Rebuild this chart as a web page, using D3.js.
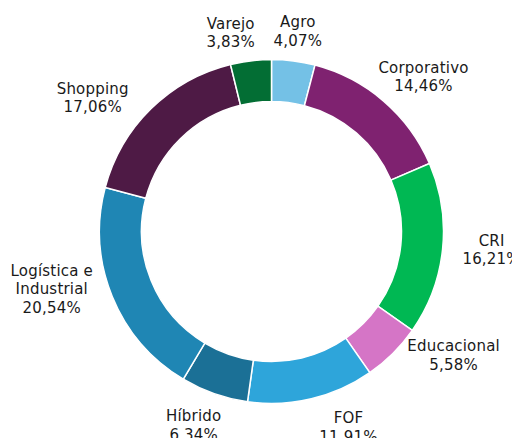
<!DOCTYPE html>
<html>
<head>
<meta charset="utf-8">
<script src="https://cdn.jsdelivr.net/npm/d3@7"></script>
<style>
  html, body { margin: 0; padding: 0; background: #fff; }
  svg { display: block; }
</style>
</head>
<body>
<div id="chart"></div>
<script>
// categories, clockwise from 12 o'clock
var categories = ["Agro", "Corporativo", "CRI", "Educacional", "FOF", "Híbrido", "Logística e Industrial", "Shopping", "Varejo"];
var shares = [4.07, 14.46, 16.21, 5.58, 11.91, 6.34, 20.54, 17.06, 3.83];
var labelLines = [["Agro"], ["Corporativo"], ["CRI"], ["Educacional"], ["FOF"], ["Híbrido"], ["Logística e", "Industrial"], ["Shopping"], ["Varejo"]];
var colors = ["#74c1e6", "#7f2270", "#00b853", "#d575c6", "#2ea5da", "#1b7096", "#1f86b4", "#4e1a45", "#036e34"];

var width = 512, height = 438;
var cx = 271.5, cy = 231.5,
    outerR = 172, innerR = 130,
    gap = 10, lineH = 18.5;

// hand tweaks so labels sit where the original put them
var nudge = {
  "Agro": [0, 0], "Corporativo": [4, -1], "CRI": [10, -1], "Educacional": [21, -17],
  "FOF": [28, 2], "Híbrido": [-8, 6], "Logística e Industrial": [-13, -20],
  "Shopping": [-26, 11], "Varejo": [-16, 2]
};

var fmt = function(v) { return d3.format(".2f")(v).replace(".", ",") + "%"; };

var data = categories.map(function(c, i) {
  return {name: c, value: shares[i], lines: labelLines[i].concat([fmt(shares[i])]), color: colors[i]};
});

var svg = d3.select("#chart").append("svg")
    .attr("width", width)
    .attr("height", height);

var g = svg.append("g")
    .attr("transform", "translate(" + cx + "," + cy + ")");

var pie = d3.pie()
    .sort(null)
    .value(function(d) { return d.value; });

var arc = d3.arc()
    .innerRadius(innerR)
    .outerRadius(outerR);

var arcs = pie(data);

g.selectAll("path")
  .data(arcs)
  .enter()
  .append("path")
    .attr("d", arc)
    .attr("fill", function(d) { return d.data.color; })
    .attr("stroke", "#fff")
    .attr("stroke-width", 1.5);

// labels
var labels = g.selectAll("text.lbl")
  .data(arcs)
  .enter()
  .append("text")
    .attr("class", "lbl")
    .attr("text-anchor", "middle")
    .style("font-family", "'DejaVu Sans', sans-serif")
    .style("font-size", "15px")
    .style("letter-spacing", "0.2px")
    .attr("fill", "#1a1a1a");

labels.each(function(d) {
  var t = d3.select(this);
  d.data.lines.forEach(function(line, i) {
    t.append("tspan").attr("x", 0).attr("dy", i === 0 ? 0 : lineH).text(line);
  });
  var w = this.getBBox().width;
  var h = d.data.lines.length * lineH;
  var a = (d.startAngle + d.endAngle) / 2;
  var sx = Math.sin(a), sy = -Math.cos(a);
  var px = (outerR + gap) * sx + sx * w / 2;
  var py = (outerR + gap) * sy + sy * h / 2;
  var n = nudge[d.data.name] || [0, 0];
  px += n[0];
  py += n[1];
  var top = py - h / 2;
  t.attr("transform", "translate(" + px + "," + (top + 13) + ")");
});
</script>
</body>
</html>
